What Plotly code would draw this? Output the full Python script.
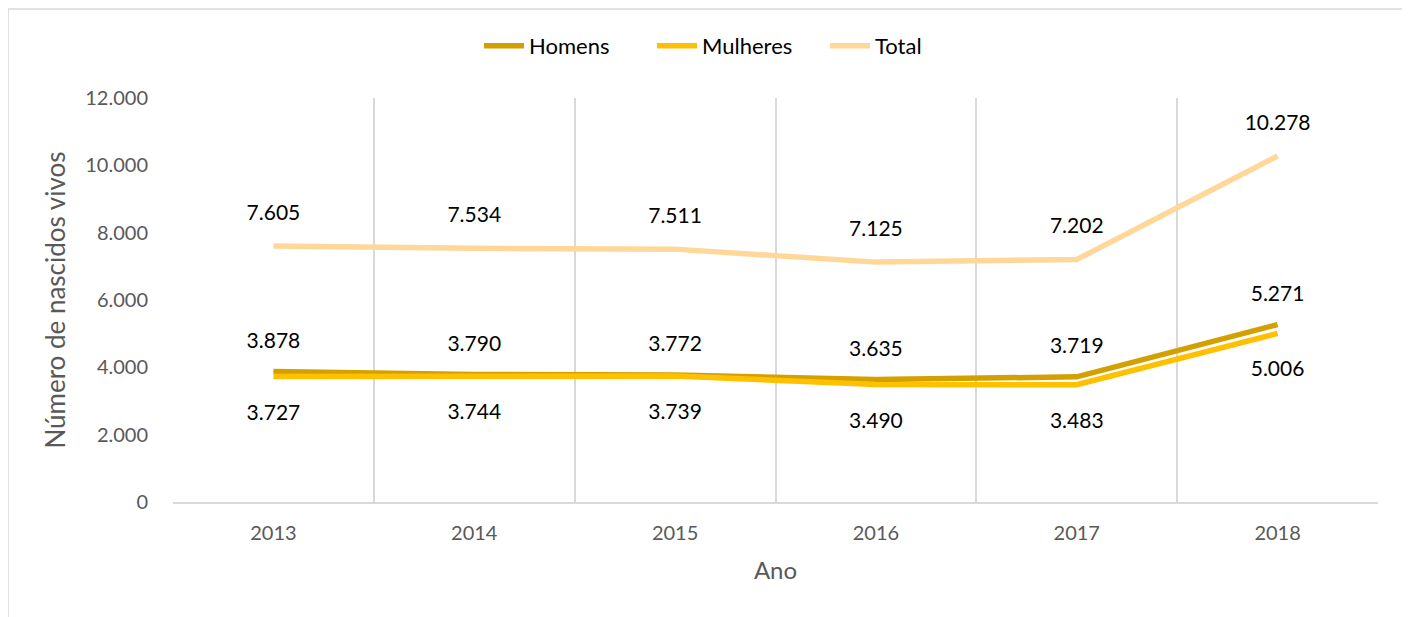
import plotly.graph_objects as go

anos = ["2013", "2014", "2015", "2016", "2017", "2018"]
homens = [3878, 3790, 3772, 3635, 3719, 5271]
mulheres = [3727, 3744, 3739, 3490, 3483, 5006]
total = [7605, 7534, 7511, 7125, 7202, 10278]

xs = list(range(len(anos)))
bounds = [i - 0.5 for i in range(len(anos) + 1)]

FONT = "Lato, 'Open Sans', sans-serif"
label_font = dict(family=FONT, size=21, color="#000000")

W, H = 1402, 609  # page body has an 8px margin

def series(name, vals, color, pos, msize):
    return go.Scatter(
        x=xs, y=vals, name=name, mode="lines+markers+text",
        line=dict(color=color, width=5.5),
        marker=dict(size=msize, color="rgba(0,0,0,0)"),
        text=[f"{v:,}".replace(",", ".") for v in vals],
        textposition=pos, textfont=label_font,
        hoverinfo="skip",
    )

fig = go.Figure()
fig.add_trace(series("Homens", homens, "#D4A000", "top center", 28))
fig.add_trace(series("Mulheres", mulheres, "#FFC000", "bottom center", 42))
fig.add_trace(series("Total", total, "#FFD899", "top center", 32))

fig.update_layout(
    width=W, height=H,
    margin=dict(l=165, r=32, t=90, b=115, autoexpand=False),
    paper_bgcolor="white", plot_bgcolor="white",
    separators=",.",
    font=dict(family=FONT, color="#595959"),
    legend=dict(orientation="h", x=(479 - 8) / W, xref="container", xanchor="left",
                y=1 - 38 / H, yref="container", yanchor="middle",
                font=dict(family=FONT, size=22, color="#000000"),
                itemwidth=40, entrywidth=118, entrywidthmode="pixels",
                traceorder="normal"),
    shapes=[dict(type="rect", xref="paper", yref="paper",
                 x0=-0.1369, x1=1.0224, y0=-0.3, y1=1.2203,
                 line=dict(color="#D9D9D9", width=1.5), layer="below")],
)
fig.update_xaxes(
    range=[-0.5, 5.5], tickmode="array", tickvals=xs, ticktext=anos,
    showgrid=False, showline=True, linecolor="#D9D9D9", linewidth=2,
    ticks="outside", ticklen=12, tickcolor="rgba(0,0,0,0)",
    tickfont=dict(family=FONT, size=20, color="#595959"),
    minor=dict(tickmode="array", tickvals=bounds, showgrid=True,
               gridcolor="#D9D9D9", gridwidth=2, ticks=""),
    title=dict(text="Ano", font=dict(family=FONT, size=24, color="#595959"), standoff=19),
    zeroline=False, automargin=False,
)
fig.update_yaxes(
    range=[0, 12000], dtick=2000, tickformat=",d",
    showgrid=False, zeroline=False, showline=False,
    ticks="outside", ticklen=20, tickcolor="rgba(0,0,0,0)",
    tickfont=dict(family=FONT, size=20, color="#595959"),
    title=dict(text="Número de nascidos vivos", font=dict(family=FONT, size=26, color="#595959"), standoff=12),
    automargin=False,
)

fig.write_html("out.html")
